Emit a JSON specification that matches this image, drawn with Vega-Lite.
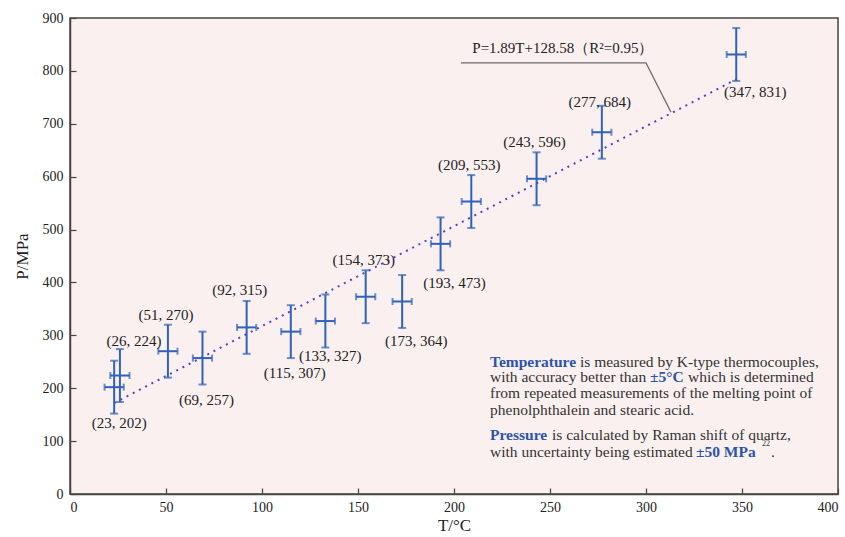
{
  "$schema": "https://vega.github.io/schema/vega-lite/v6.json",
  "width": 768,
  "height": 476,
  "autosize": {"type": "none"},
  "padding": {"left": 70, "top": 18, "right": 7, "bottom": 43},
  "background": "#ffffff",
  "config": {
    "view": {"fill": "#FAF0F0", "stroke": "#4a4444", "strokeWidth": 1.5},
    "font": "Liberation Serif",
    "axis": {
      "domainColor": "#4a4444", "domainWidth": 1.5,
      "tickColor": "#4a4444", "tickWidth": 1.2, "tickSize": -6,
      "labelFont": "Liberation Serif", "labelFontSize": 14, "labelColor": "#222222",
      "titleFont": "Liberation Serif", "titleFontSize": 17, "titleFontWeight": "normal", "titleColor": "#222222",
      "grid": false
    }
  },
  "datasets": {
    "points": [
      {"T": 23, "P": 202, "Tlo": 18, "Thi": 28, "Plo": 152, "Phi": 252, "label": "(23, 202)", "side": "below"},
      {"T": 26, "P": 224, "Tlo": 21, "Thi": 31, "Plo": 174, "Phi": 274, "label": "(26, 224)", "side": "above right"},
      {"T": 51, "P": 270, "Tlo": 46, "Thi": 56, "Plo": 220, "Phi": 320, "label": "(51, 270)", "side": "above"},
      {"T": 69, "P": 257, "Tlo": 64, "Thi": 74, "Plo": 207, "Phi": 307, "label": "(69, 257)", "side": "below low"},
      {"T": 92, "P": 315, "Tlo": 87, "Thi": 97, "Plo": 265, "Phi": 365, "label": "(92, 315)", "side": "above left"},
      {"T": 115, "P": 307, "Tlo": 110, "Thi": 120, "Plo": 257, "Phi": 357, "label": "(115, 307)", "side": "below low"},
      {"T": 133, "P": 327, "Tlo": 128, "Thi": 138, "Plo": 277, "Phi": 377, "label": "(133, 327)", "side": "below"},
      {"T": 154, "P": 373, "Tlo": 149, "Thi": 159, "Plo": 323, "Phi": 423, "label": "(154, 373)", "side": "above"},
      {"T": 173, "P": 364, "Tlo": 168, "Thi": 178, "Plo": 314, "Phi": 414, "label": "(173, 364)", "side": "below right"},
      {"T": 193, "P": 473, "Tlo": 188, "Thi": 198, "Plo": 423, "Phi": 523, "label": "(193, 473)", "side": "below right"},
      {"T": 209, "P": 553, "Tlo": 204, "Thi": 214, "Plo": 503, "Phi": 603, "label": "(209, 553)", "side": "above"},
      {"T": 243, "P": 596, "Tlo": 238, "Thi": 248, "Plo": 546, "Phi": 646, "label": "(243, 596)", "side": "above"},
      {"T": 277, "P": 684, "Tlo": 272, "Thi": 282, "Plo": 634, "Phi": 734, "label": "(277, 684)", "side": "above close"},
      {"T": 347, "P": 831, "Tlo": 342, "Thi": 352, "Plo": 781, "Phi": 881, "label": "(347, 831)", "side": "below far right"}
    ],
    "fit": [
      {"T": 23, "P": 172},
      {"T": 347, "P": 784}
    ],
    "leader": [
      {"T": 203.6, "P": 815},
      {"T": 300, "P": 815},
      {"T": 313, "P": 722}
    ],
    "equation": [
      {"T": 256.7, "P": 843, "text": "P=1.89T+128.58（R²=0.95）"}
    ],
    "notesNormal": [
      {"T": 265.6, "P": 250.1, "text": "is measured by K-type thermocouples,"},
      {"T": 218.75, "P": 221.8, "text": "with accuracy better than"},
      {"T": 321.9, "P": 221.8, "text": "which is determined"},
      {"T": 218.75, "P": 190.4, "text": "from repeated measurements of the melting point of"},
      {"T": 218.75, "P": 158.8, "text": "phenolphthalein and stearic acid."},
      {"T": 251.0, "P": 111.6, "text": "is calculated by Raman shift of quartz,"},
      {"T": 218.75, "P": 79.4, "text": "with uncertainty being estimated"},
      {"T": 365.1, "P": 79.4, "text": "."}
    ],
    "notesBold": [
      {"T": 218.75, "P": 250.1, "text": "Temperature"},
      {"T": 302.1, "P": 221.8, "text": "±5°C"},
      {"T": 218.75, "P": 111.6, "text": "Pressure"},
      {"T": 326.0, "P": 79.4, "text": "±50 MPa"}
    ],
    "notesSup": [
      {"T": 360.4, "P": 94.5, "text": "22"}
    ]
  },
  "encoding": {
    "x": {"field": "T", "type": "quantitative", "title": "T/°C",
          "scale": {"domain": [0, 400], "nice": false},
          "axis": {"values": [0, 50, 100, 150, 200, 250, 300, 350, 400], "labelPadding": 12, "titlePadding": 3}},
    "y": {"field": "P", "type": "quantitative", "title": "P/MPa",
          "scale": {"domain": [0, 900], "nice": false},
          "axis": {"values": [0, 100, 200, 300, 400, 500, 600, 700, 800, 900], "labelPadding": 13, "titlePadding": 11}}
  },
  "layer": [
    {
      "data": {"name": "fit"},
      "mark": {"type": "line", "color": "#5440C0", "strokeWidth": 2, "strokeDash": [2, 5]}
    },
    {
      "data": {"name": "leader"},
      "mark": {"type": "line", "color": "#6e6a6a", "strokeWidth": 1.2}
    },
    {
      "data": {"name": "equation"},
      "mark": {"type": "text", "fontSize": 15, "color": "#222222", "align": "center", "baseline": "middle"},
      "encoding": {"text": {"field": "text"}}
    },
    {
      "data": {"name": "points"},
      "mark": {"type": "errorbar", "color": "#2F62B8", "thickness": 2, "ticks": {"size": 8, "thickness": 2, "color": "#2F62B8"}},
      "encoding": {
        "y": {"field": "Plo", "type": "quantitative", "title": "P/MPa"},
        "y2": {"field": "Phi"}
      }
    },
    {
      "data": {"name": "points"},
      "mark": {"type": "errorbar", "color": "#2F62B8", "thickness": 2, "ticks": {"size": 7, "thickness": 2, "color": "#2F62B8"}},
      "encoding": {
        "x": {"field": "Tlo", "type": "quantitative", "title": "T/°C"},
        "x2": {"field": "Thi"}
      }
    },
    {
      "data": {"name": "points"},
      "transform": [{"filter": "datum.side == 'above'"}],
      "mark": {"type": "text", "fontSize": 15, "color": "#222222", "align": "center", "baseline": "middle", "dy": -10, "dx": -2},
      "encoding": {"y": {"field": "Phi", "type": "quantitative", "title": "P/MPa"}, "text": {"field": "label"}}
    },
    {
      "data": {"name": "points"},
      "transform": [{"filter": "datum.side == 'above close'"}],
      "mark": {"type": "text", "fontSize": 15, "color": "#222222", "align": "center", "baseline": "middle", "dy": -4, "dx": -2},
      "encoding": {"y": {"field": "Phi", "type": "quantitative", "title": "P/MPa"}, "text": {"field": "label"}}
    },
    {
      "data": {"name": "points"},
      "transform": [{"filter": "datum.side == 'above left'"}],
      "mark": {"type": "text", "fontSize": 15, "color": "#222222", "align": "center", "baseline": "middle", "dy": -11, "dx": -7},
      "encoding": {"y": {"field": "Phi", "type": "quantitative", "title": "P/MPa"}, "text": {"field": "label"}}
    },
    {
      "data": {"name": "points"},
      "transform": [{"filter": "datum.side == 'above right'"}],
      "mark": {"type": "text", "fontSize": 15, "color": "#222222", "align": "center", "baseline": "middle", "dy": -8, "dx": 14},
      "encoding": {"y": {"field": "Phi", "type": "quantitative", "title": "P/MPa"}, "text": {"field": "label"}}
    },
    {
      "data": {"name": "points"},
      "transform": [{"filter": "datum.side == 'below'"}],
      "mark": {"type": "text", "fontSize": 15, "color": "#222222", "align": "center", "baseline": "middle", "dy": 9, "dx": 5},
      "encoding": {"y": {"field": "Plo", "type": "quantitative", "title": "P/MPa"}, "text": {"field": "label"}}
    },
    {
      "data": {"name": "points"},
      "transform": [{"filter": "datum.side == 'below low'"}],
      "mark": {"type": "text", "fontSize": 15, "color": "#222222", "align": "center", "baseline": "middle", "dy": 15, "dx": 4},
      "encoding": {"y": {"field": "Plo", "type": "quantitative", "title": "P/MPa"}, "text": {"field": "label"}}
    },
    {
      "data": {"name": "points"},
      "transform": [{"filter": "datum.side == 'below right'"}],
      "mark": {"type": "text", "fontSize": 15, "color": "#222222", "align": "center", "baseline": "middle", "dy": 13, "dx": 14},
      "encoding": {"y": {"field": "Plo", "type": "quantitative", "title": "P/MPa"}, "text": {"field": "label"}}
    },
    {
      "data": {"name": "points"},
      "transform": [{"filter": "datum.side == 'below far right'"}],
      "mark": {"type": "text", "fontSize": 15, "color": "#222222", "align": "center", "baseline": "middle", "dy": 11, "dx": 19},
      "encoding": {"y": {"field": "Plo", "type": "quantitative", "title": "P/MPa"}, "text": {"field": "label"}}
    },
    {
      "data": {"name": "notesNormal"},
      "mark": {"type": "text", "fontSize": 15.5, "color": "#333333", "align": "left", "baseline": "middle"},
      "encoding": {"text": {"field": "text"}}
    },
    {
      "data": {"name": "notesBold"},
      "mark": {"type": "text", "fontSize": 15.5, "fontWeight": "bold", "color": "#2B55A8", "align": "left", "baseline": "middle"},
      "encoding": {"text": {"field": "text"}}
    },
    {
      "data": {"name": "notesSup"},
      "mark": {"type": "text", "fontSize": 8, "color": "#333333", "align": "left", "baseline": "middle"},
      "encoding": {"text": {"field": "text"}}
    }
  ]
}
